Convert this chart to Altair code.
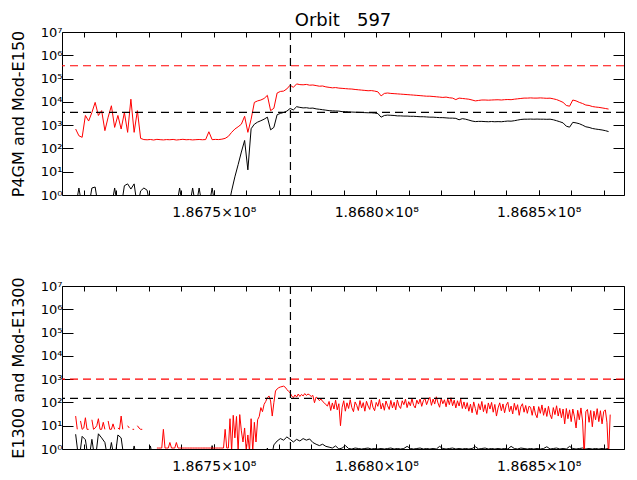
import altair as alt
import pandas as pd

N = None
BASE = 186700000.0      # seconds; times below are in ks after BASE
KS = 1000.0

X_RANGE_KS = [3.3, 176.25]
X_MAJOR = [186750000, 186800000, 186850000]
X_MINOR = [186710000, 186720000, 186730000, 186740000, 186750000, 186760000,
           186770000, 186780000, 186790000, 186800000, 186810000, 186820000,
           186830000, 186840000, 186850000, 186860000, 186870000]
Y_TICKS = [1, 10, 100, 1000, 10000, 100000, 1000000, 10000000]
EVENT_KS = 73.6

# ---- upper panel (sampled every 1 ks from 7.5 ks) ----
TOP_T0, TOP_DT = 7.5, 1.0
P4GM = [680, 350, 300, 2600, 1500, 3500, 9500, 2600, 4200, 580,
        2200, 6800, 800, 2600, 680, 3500, 490, 13000, 490, 4200,
        270, 240,
        235, 242, 230, 245, 238, 232, 240, 236, 244, 230, 238, 246,
        236, 240, 232, 238, 242, 236, 240, 520, 238, 244, 240, 250,
        270, 330, 490, 680, 850, 1100, 2400, 490, 1800, 9500,
        11000, 12000, 14000, 19000, 4200, 5300, 24000, 28000, 29000, 36000,
        52000, 42000, 59000, 55000, 54000, 56000, 52000, 53000, 50000, 47000,
        48000, 44000, 42000, 40000, 41000, 39000, 38000, 37000, 36000, 35500,
        34000, 33000, 32000, 31000, 30000, 30500, 29000, 27000, 18000, 23000,
        24000, 23000, 22500, 22000, 21500, 21000, 20500, 20000, 19500, 19000,
        18500, 18000, 17500, 17500, 17000, 16500, 16000, 15500, 16000, 15000,
        14500, 12500, 14500, 14000, 13500, 13000, 12000, 11000, 11500, 12000,
        12000, 11800, 12000, 12200, 12300, 12000, 12400, 12600, 12400, 13000,
        13500, 14000, 14500, 14500, 14800, 14500, 14500, 14800, 14500, 14200,
        14400, 13500, 12500, 11000, 9500, 7000, 6500, 12000, 11000, 9500,
        8500, 7300, 7000, 6300, 6000, 5800, 5500, 5200, 4900]
MOD_E150 = [0.3, 2.0, 0.3, 0.3, 0.3, 2.0, 2.2, 0.3, 0.3, 0.3,
            0.3, 0.3, 2.0, 0.3, 0.3, 2.5, 3.0, 1.8, 3.0, 0.3,
            1.5, 2.0, 1.6,
            0.3, 0.3, 0.3, 0.3, 0.3, 0.3, 0.3, 0.3, 0.3,
            2.0, 0.3, 0.3, 0.3, 2.0, 0.3, 2.0, 0.3, 0.3, 0.3, 2.0,
            0.3, 0.3, 0.3, 0.3, 0.3,
            1.5, 6, 20, 70, 220, 12, 700, 1100, 1350, 1550, 1800, 2200,
            630, 800, 2800, 3200, 3500, 4000, 5200, 4500, 6200, 5800,
            5500, 5600, 5300, 5400, 5000, 4800, 4600, 4400, 4200, 4100,
            4050, 4000, 3800, 3800, 3700, 3650, 3600, 3550, 3500, 3450,
            3400, 3400, 3300, 3150, 2200, 2600, 2700, 2650, 2600, 2500,
            2500, 2450, 2450, 2400, 2400, 2350, 2300, 2300, 2250, 2200,
            2200, 2150, 2100, 2100, 2050, 2000, 2000, 1950, 1700, 1900,
            1800, 1650, 1500, 1420, 1450, 1450, 1420, 1400, 1430, 1400,
            1420, 1400, 1450, 1500, 1480, 1550, 1650, 1750, 1800, 1800,
            1820, 1800, 1820, 1800, 1800, 1780, 1800, 1700, 1550, 1400,
            1250, 900, 820, 1320, 1250, 1150, 1000, 850, 800, 720,
            680, 650, 620, 580, 530]
TOP_LIMITS = [355000, 3550]       # red, black

# ---- lower panel ----
E1300_T0, E1300_DT = 7.5, 0.5
E1300 = [26, 7, N, 16, 7, 8, 22, 7, 7, N,
         18, 7, 8, 10, 20, 7, 7, 14, 7, N,
         16, 7, 7, 12, 7, N, 8, 7, 26, 7,
         N, N, 10, 8, N, 7, 7, N, 10, 8,
         7, 7, N, N, N, N, N, N, N, N,
         1.1, 1.1, 1.1, 1.1, 7, 1.1, 1.1, 1.1, 1.9, 1.1,
         1.1, 1.1, 1.9, 1.1,
         1.1, 1.1, 1.1, 1.1, 1.1, 1.1, 1.1, 1.1, 1.1, 1.1,
         1.1, 1.1, 1.1, 1.1, 1.1, 1.1, 1.1, 1.1, 1.1, 1.1,
         1.1, 1.1, 1.1, 1.1, 1.1, 1.1, 1.1, 1.1,
         7, 1.1, 1.1,
         20, 0.8, 28, 3, 25, 0.8, 30, 6, 2, 8,
         0.8, 4, 0.8, 20, 0.8, 14, 2, 18, 25, 60,
         40, 83, 110, 160, 190, 115, 26, 97, 310, 380,
         430, 460, 480, 500, 450, 360, 300, 260, 190, 160,
         210, 170, 230, 180, 220, 190, 240, 200, 230, 210,
         180, 200, 97, 170, 150, 120, 140, 110, 97, 80,
         70,
         110, 45, 95, 52, 125, 48, 88, 10, 62, 118,
         42, 96, 55, 130, 60, 40, 105, 75, 45, 120,
         58, 98, 42, 112, 70, 50, 128, 62, 44, 100,
         68, 135, 52, 92, 46, 115, 72, 50, 122, 58,
         102, 48, 128, 70, 55, 118, 80, 138, 60, 108,
         72, 145, 75, 58, 125, 85, 140, 68, 118, 150,
         80, 125,
         165, 75, 140, 85, 175, 95, 62, 150, 88, 130,
         65, 145, 80, 160, 72, 125, 58, 118, 70, 140,
         55, 105,
         52, 98, 42, 85, 36, 105, 55, 30, 88, 48,
         110, 40, 80, 34, 95, 52, 100, 38, 82, 26,
         58, 96, 44, 86, 36, 76, 102, 40, 70, 32,
         92, 46, 80, 28, 66, 88, 38, 74, 34, 68,
         62, 28, 70, 32, 22, 66, 34, 78, 28, 58,
         25, 68, 30, 20, 60, 30, 72, 26, 56, 22,
         52,
         12, 55, 20, 48, 15, 52, 24, 8, 46, 18,
         58, 16, 0.5, 40, 50, 14, 45, 9, 42, 18,
         54, 15, 44, 12, 40, 48, 14, 0.5, 30]
MOD_E1300_T0, MOD_E1300_DT = 7.5, 1.0
MOD_E1300 = [4.3, 0.3, 3.5, 2.5, 0.3, 2.6, 0.3, 4.5, 3.0, 1.9,
             0.3, 1.9, 0.3, 4.0, 3.0, 0.3, 0.3, 0.3, 1.35, 0.3,
             0.3, 0.3, 0.3, 1.35,
             0.3, 0.3, 0.3, 0.3, 0.3, 0.3, 0.3, 0.3, 0.3,
             0.3, 0.3, 0.3, 0.3, 0.3, 0.3, 0.3, 0.3, 0.3,
             1.4,
             0.3, 0.3, 0.3, 0.3, 0.3, 0.3, 0.3, 0.3,
             0.3, 0.3, 0.3, 0.3, 0.3, 0.3, 0.3, 0.3,
             1.1, 0.3, 1.5, 2.2, 2.8, 2.4, 3.3, 2.6, 2.0, 2.6,
             2.2, 2.8, 2.4, 2.7, 1.9, 1.6, 1.4, 1.6, 1.3, 1.2,
             1.1, 1.35, 1.0, 1.1, 1.4,
             1.05, 1.0, 1.1, 1.05, 1.0, 1.05, 1.1, 1.0, 1.05, 1.0,
             1.05, 1.0, 1.05, 1.1, 1.0, 1.05, 1.0, 1.05, 1.3, 1.05,
             1.0, 1.05, 1.1, 1.0, 1.05, 1.0, 1.05, 1.0, 1.3, 1.05,
             1.0, 1.05, 1.1, 1.0, 1.05, 1.0, 1.05, 1.0, 1.05, 1.25,
             1.0, 1.05, 1.1, 1.0, 1.05, 1.0, 1.05, 1.0, 1.05, 1.0,
             1.3, 1.05, 1.0, 1.1, 1.05, 1.0, 1.05, 1.0, 1.05, 1.0,
             1.05, 1.25, 1.0, 1.05, 1.1, 1.0, 1.05, 1.0, 1.3, 1.05,
             1.0, 1.05, 1.1, 1.0, 1.05, 1.0, 1.05, 1.0, 1.05, 1.0,
             1.05]
BOT_LIMITS = [1000, 150]          # red, black

TITLE = "Orbit\u00a0\u00a0\u00a0597"
YTITLE_TOP = "P4GM and Mod-E150"
YTITLE_BOT = "E1300 and Mod-E1300"

FONT = "DejaVu Sans"
W, H = 562, 163


def frame(t0, dt, vals):
    return pd.DataFrame({
        "t": [BASE + (t0 + i * dt) * KS for i in range(len(vals))],
        "v": vals,
    })


XSCALE = alt.Scale(domain=[BASE + X_RANGE_KS[0] * KS, BASE + X_RANGE_KS[1] * KS],
                   nice=False, zero=False)
YSCALE = alt.Scale(type="log", domain=[1, 1e7], nice=False)

YLABEL = "'10' + ['\u2070','\u00b9','\u00b2','\u00b3','\u2074','\u2075','\u2076','\u2077'][round(log(datum.value)/LN10)]"
XLABEL = "format(datum.value / 1e8, '.4f') + '\u00d710\u2078'"

common_axis = dict(domain=False, grid=False, tickColor="black", labelColor="black",
                   titleColor="black", labelFont=FONT, titleFont=FONT, tickWidth=1)


def panel(red_vals, red_t0, red_dt, blk_vals, blk_t0, blk_dt, limits, ytitle, title=None):
    red_df = frame(red_t0, red_dt, red_vals)
    blk_df = frame(blk_t0, blk_dt, blk_vals)

    black = alt.Chart(blk_df).mark_line(color="black", strokeWidth=1, clip=True,
                                        invalid="break-paths-filter-domains").encode(
        x=alt.X("t:Q", scale=XSCALE,
                axis=alt.Axis(orient="bottom", values=X_MINOR, labels=False, tickSize=5,
                              offset=-5, title=None, **common_axis)),
        y=alt.Y("v:Q", scale=YSCALE,
                axis=alt.Axis(orient="right", values=Y_TICKS, labels=False, tickSize=11,
                              offset=-11, title=None, **common_axis)),
    )
    red = alt.Chart(red_df).mark_line(color="red", strokeWidth=1, clip=True,
                                      invalid="break-paths-filter-domains").encode(
        x=alt.X("t:Q", scale=XSCALE,
                axis=alt.Axis(orient="bottom", values=X_MAJOR, labelExpr=XLABEL, tickSize=5,
                              offset=-5, labelPadding=10, labelFontSize=14, title=None,
                              labelFlush=False, labelOverlap=False, **common_axis)),
        y=alt.Y("v:Q", scale=YSCALE,
                axis=alt.Axis(orient="left", values=Y_TICKS, labelExpr=YLABEL, tickSize=11,
                              offset=-11, labelPadding=0, labelFontSize=13,
                              title=ytitle, titleFontSize=16, titleFontWeight="normal",
                              titlePadding=14, labelOverlap=False, **common_axis)),
    )
    lim_red = alt.Chart(pd.DataFrame({"v": [limits[0]]})).mark_rule(
        color="red", strokeWidth=1.2, strokeDash=[8, 5]).encode(
        y=alt.Y("v:Q", scale=YSCALE, axis=None))
    lim_blk = alt.Chart(pd.DataFrame({"v": [limits[1]]})).mark_rule(
        color="black", strokeWidth=1.2, strokeDash=[8, 5]).encode(
        y=alt.Y("v:Q", scale=YSCALE, axis=None))
    event = alt.Chart(pd.DataFrame({"t": [BASE + EVENT_KS * KS]})).mark_rule(
        color="black", strokeWidth=1.2, strokeDash=[8, 5]).encode(
        x=alt.X("t:Q", scale=XSCALE,
                axis=alt.Axis(orient="top", values=X_MINOR, labels=False, tickSize=5,
                              offset=-5, title=None, **common_axis)))

    props = dict(width=W, height=H)
    if title is not None:
        props["title"] = alt.TitleParams(title, font=FONT, fontSize=18, fontWeight="normal",
                                         color="black", anchor="middle", offset=-4)
    return alt.layer(black, red, lim_red, lim_blk, event).resolve_axis(
        x="independent", y="independent").properties(**props)


top = panel(P4GM, TOP_T0, TOP_DT, MOD_E150, TOP_T0, TOP_DT, TOP_LIMITS, YTITLE_TOP, TITLE)
bot = panel(E1300, E1300_T0, E1300_DT, MOD_E1300, MOD_E1300_T0, MOD_E1300_DT,
            BOT_LIMITS, YTITLE_BOT)

chart = alt.vconcat(top, bot, spacing=56).properties(
    padding={"left": 1, "top": 3, "right": 0, "bottom": -2},
    background="white",
).configure_view(stroke="black", strokeWidth=1)

chart.save("out.html", embed_options={"renderer": "svg", "actions": False})
